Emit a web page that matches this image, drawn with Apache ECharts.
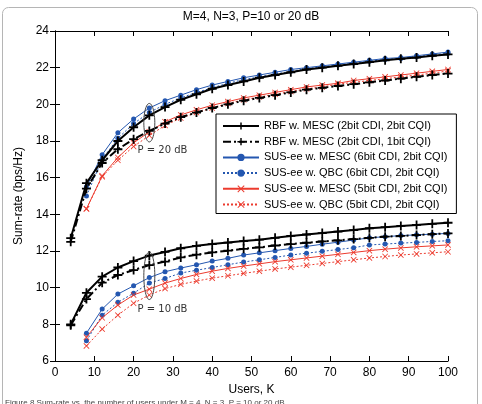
<!DOCTYPE html>
<html>
<head>
<meta charset="utf-8">
<script src="https://cdn.jsdelivr.net/npm/echarts@6/dist/echarts.min.js"></script>
<style>
  html, body { margin: 0; padding: 0; background: #fff; }
  #main { width: 482px; height: 404px; }
</style>
</head>
<body>
<div id="main"></div>
<script>
  // users K (step 4)
  var usersAll = [4, 8, 12, 16, 20, 24, 28, 32, 36, 40, 44, 48, 52, 56, 60, 64, 68, 72, 76, 80, 84, 88, 92, 96, 100];
  var usersSus = usersAll.slice(1);

  var xTicks = [0, 10, 20, 30, 40, 50, 60, 70, 80, 90, 100];
  var yTicks = [6, 8, 10, 12, 14, 16, 18, 20, 22, 24];

  var seriesNames = [
    'RBF w. MESC (2bit CDI, 2bit CQI)',
    'RBF w. MESC (2bit CDI, 1bit CQI)',
    'SUS-ee w. MESC (6bit CDI, 2bit CQI)',
    'SUS-ee w. QBC (6bit CDI, 2bit CQI)',
    'SUS-ee w. MESC (5bit CDI, 2bit CQI)',
    'SUS-ee w. QBC (5bit CDI, 2bit CQI)'
  ];

  // P = 20 dB
  var rbf22_20 = [12.7, 15.7, 16.95, 18.0, 18.75, 19.4, 19.85, 20.25, 20.55, 20.85, 21.05, 21.25, 21.45, 21.6, 21.75, 21.9, 22.0, 22.1, 22.2, 22.3, 22.4, 22.48, 22.55, 22.65, 22.72];
  var rbf21_20 = [12.5, 15.4, 16.8, 17.55, 18.1, 18.55, 18.95, 19.3, 19.55, 19.8, 20.0, 20.2, 20.35, 20.5, 20.65, 20.8, 20.9, 21.0, 21.1, 21.2, 21.3, 21.4, 21.5, 21.6, 21.68];
  var susMesc6_20 = [15.5, 17.25, 18.45, 19.2, 19.8, 20.2, 20.5, 20.8, 21.05, 21.25, 21.45, 21.6, 21.75, 21.9, 22.0, 22.1, 22.2, 22.3, 22.4, 22.5, 22.55, 22.65, 22.75, 22.85];
  var susQbc6_20 = [15.0, 17.0, 18.15, 18.95, 19.55, 20.0, 20.35, 20.65, 20.9, 21.15, 21.35, 21.5, 21.65, 21.8, 21.95, 22.05, 22.15, 22.25, 22.35, 22.45, 22.5, 22.6, 22.7, 22.78];
  var susMesc5_20 = [14.3, 16.1, 17.1, 17.9, 18.5, 19.05, 19.42, 19.7, 19.95, 20.15, 20.35, 20.5, 20.65, 20.8, 20.95, 21.05, 21.15, 21.3, 21.4, 21.5, 21.6, 21.7, 21.8, 21.9];
  var susQbc5_20 = [14.3, 16.05, 16.95, 17.7, 18.3, 18.85, 19.25, 19.55, 19.8, 20.05, 20.25, 20.4, 20.55, 20.7, 20.85, 20.95, 21.1, 21.2, 21.3, 21.4, 21.5, 21.6, 21.7, 21.82];

  // P = 10 dB
  var rbf22_10 = [8.0, 9.72, 10.6, 11.1, 11.45, 11.75, 11.95, 12.15, 12.28, 12.38, 12.46, 12.54, 12.62, 12.72, 12.82, 12.9, 12.98, 13.06, 13.14, 13.24, 13.3, 13.37, 13.42, 13.48, 13.54];
  var rbf21_10 = [7.95, 9.38, 10.27, 10.69, 10.96, 11.23, 11.42, 11.65, 11.8, 11.92, 12.02, 12.12, 12.2, 12.3, 12.38, 12.45, 12.52, 12.58, 12.65, 12.72, 12.78, 12.82, 12.87, 12.92, 12.96];
  var susMesc6_10 = [7.52, 8.83, 9.65, 10.1, 10.55, 10.87, 11.07, 11.25, 11.45, 11.6, 11.78, 11.9, 12.02, 12.14, 12.25, 12.37, 12.48, 12.6, 12.72, 12.78, 12.84, 12.88, 12.92, 12.96];
  var susQbc6_10 = [7.1, 8.5, 9.2, 9.7, 10.25, 10.5, 10.8, 10.95, 11.1, 11.25, 11.4, 11.52, 11.65, 11.78, 11.88, 11.98, 12.08, 12.18, 12.33, 12.38, 12.43, 12.47, 12.52, 12.56];
  var susMesc5_10 = [7.3, 8.36, 9.05, 9.6, 9.92, 10.25, 10.5, 10.72, 10.9, 11.05, 11.18, 11.3, 11.42, 11.52, 11.62, 11.72, 11.82, 11.92, 12.02, 12.1, 12.17, 12.23, 12.28, 12.33];
  var susQbc5_10 = [6.82, 7.74, 8.5, 9.15, 9.6, 9.95, 10.18, 10.36, 10.52, 10.65, 10.78, 10.9, 11.02, 11.12, 11.22, 11.32, 11.42, 11.52, 11.62, 11.7, 11.78, 11.84, 11.9, 11.96];

  // annotation ellipses at K = 24: [x, yLow, yHigh]
  var ellipses = [[24, 17.95, 20.05], [24, 9.35, 11.95]];
  var notes = [[21, 17.5, 'P = 20 dB'], [21, 8.8, 'P = 10 dB']];

  var plusPath = 'path://M4,0h2v4h4v2h-4v4h-2v-4h-4v-2h4z';
  var crossPath = 'path://M0,1L1,0L5,4L9,0L10,1L6,5L10,9L9,10L5,6L1,10L0,9L4,5Z';

  function pairs(xs, ys) {
    return xs.map(function (x, i) { return [x, ys[i]]; });
  }

  var styles = [
    { color: '#000', width: 2, type: 'solid', symbol: plusPath, size: 9 },
    { color: '#000', width: 2, type: [8, 3, 2, 3], symbol: plusPath, size: 9 },
    { color: '#2457b0', width: 1, type: 'solid', symbol: 'circle', size: 5 },
    { color: '#2457b0', width: 1, type: [2, 2], symbol: 'circle', size: 5 },
    { color: '#ec3b2e', width: 1, type: 'solid', symbol: crossPath, size: 6 },
    { color: '#ec3b2e', width: 1, type: [2, 2], symbol: crossPath, size: 6 }
  ];

  var data20 = [rbf22_20, rbf21_20, susMesc6_20, susQbc6_20, susMesc5_20, susQbc5_20];
  var data10 = [rbf22_10, rbf21_10, susMesc6_10, susQbc6_10, susMesc5_10, susQbc5_10];

  var series = [];
  [data20, data10].forEach(function (group) {
    group.forEach(function (ys, i) {
      var s = styles[i];
      series.push({
        name: seriesNames[i],
        type: 'line',
        data: pairs(i < 2 ? usersAll : usersSus, ys),
        symbol: s.symbol,
        symbolSize: s.size,
        showAllSymbol: true,
        animation: false,
        itemStyle: { color: s.color },
        lineStyle: { color: s.color, width: s.width, type: s.type },
        z: i < 2 ? 3 : 2
      });
    });
  });

  series.push({
    type: 'custom',
    data: ellipses,
    silent: true,
    z: 4,
    renderItem: function (params, api) {
      var x = api.value(0), lo = api.value(1), hi = api.value(2);
      var c = api.coord([x, (lo + hi) / 2]);
      var top = api.coord([x, hi]);
      var ry = c[1] - top[1];
      var rx = 5.5;
      var pts = [];
      for (var k = 0; k <= 48; k++) {
        var a = k / 48 * Math.PI * 2;
        pts.push([c[0] + rx * Math.cos(a), c[1] + ry * Math.sin(a)]);
      }
      return { type: 'polyline', shape: { points: pts }, style: { stroke: '#444', fill: null, lineWidth: 1 } };
    }
  });

  series.push({
    type: 'custom',
    data: notes,
    silent: true,
    z: 4,
    renderItem: function (params, api) {
      var p = api.coord([api.value(0), api.value(1)]);
      return {
        type: 'text',
        x: p[0],
        y: p[1],
        style: {
          text: notes[params.dataIndex][2],
          fill: '#333',
          font: '10px "DejaVu Sans"',
          textAlign: 'left',
          textVerticalAlign: 'middle'
        }
      };
    }
  });

  var chart = echarts.init(document.getElementById('main'));
  var axisFont = { color: '#000', fontSize: 12, fontFamily: 'Liberation Sans' };

  var option = {
    animation: false,
    textStyle: { fontFamily: 'Liberation Sans' },
    grid: { left: 55, right: 34, top: 31, bottom: 43 },
    legend: {
      data: seriesNames,
      orient: 'vertical',
      left: 216,
      top: 114,
      itemWidth: 36,
      itemHeight: 9,
      itemGap: 3.7,
      padding: [6, 9, 3, 6],
      backgroundColor: '#fff',
      borderColor: '#000',
      borderWidth: 1,
      selectedMode: false,
      textStyle: { color: '#000', fontSize: 11, lineHeight: 12, fontFamily: 'Liberation Sans' }
    },
    xAxis: [{
      type: 'value',
      min: 0,
      max: 100,
      interval: 10,
      name: 'Users, K',
      nameLocation: 'middle',
      nameGap: 19,
      nameTextStyle: axisFont,
      axisLine: { lineStyle: { color: '#000', width: 1 } },
      axisTick: { inside: true, length: 5, lineStyle: { color: '#000' } },
      axisLabel: Object.assign({ margin: 6, customValues: xTicks }, axisFont),
      splitLine: { show: false }
    }, {
      type: 'value',
      position: 'top',
      min: 0,
      max: 100,
      interval: 10,
      axisLine: { lineStyle: { color: '#000', width: 1 } },
      axisTick: { inside: true, length: 5, lineStyle: { color: '#000' } },
      axisLabel: { show: false },
      splitLine: { show: false }
    }],
    yAxis: [{
      type: 'value',
      min: 6,
      max: 24,
      interval: 2,
      name: 'Sum-rate (bps/Hz)',
      nameLocation: 'middle',
      nameGap: 23,
      nameTextStyle: axisFont,
      axisLine: { show: true, lineStyle: { color: '#000', width: 1 } },
      axisTick: { show: true, inside: true, length: 5, lineStyle: { color: '#000' } },
      axisLabel: Object.assign({ margin: 6, customValues: yTicks }, axisFont),
      splitLine: { show: false }
    }, {
      type: 'value',
      position: 'right',
      min: 6,
      max: 24,
      interval: 2,
      axisLine: { show: true, lineStyle: { color: '#000', width: 1 } },
      axisTick: { show: true, inside: true, length: 5, lineStyle: { color: '#000' } },
      axisLabel: { show: false },
      splitLine: { show: false }
    }],
    graphic: [
      {
        type: 'rect',
        shape: { x: 2.5, y: 7.5, width: 475, height: 420, r: 6 },
        style: { fill: null, stroke: '#b5b5b5', lineWidth: 1 },
        silent: true
      },
      {
        type: 'text',
        x: 251,
        y: 17,
        style: {
          text: 'M=4, N=3, P=10 or 20 dB',
          font: '12px "Liberation Sans"',
          fill: '#000',
          textAlign: 'center',
          textVerticalAlign: 'middle'
        }
      },
      {
        type: 'text',
        x: 5,
        y: 399,
        style: {
          text: 'Figure 8 Sum-rate vs. the number of users under M = 4, N = 3, P = 10 or 20 dB',
          font: '8px "Liberation Sans"',
          fill: '#444',
          textAlign: 'left',
          textVerticalAlign: 'top'
        }
      }
    ],
    series: series
  };

  chart.setOption(option);
</script>
</body>
</html>
